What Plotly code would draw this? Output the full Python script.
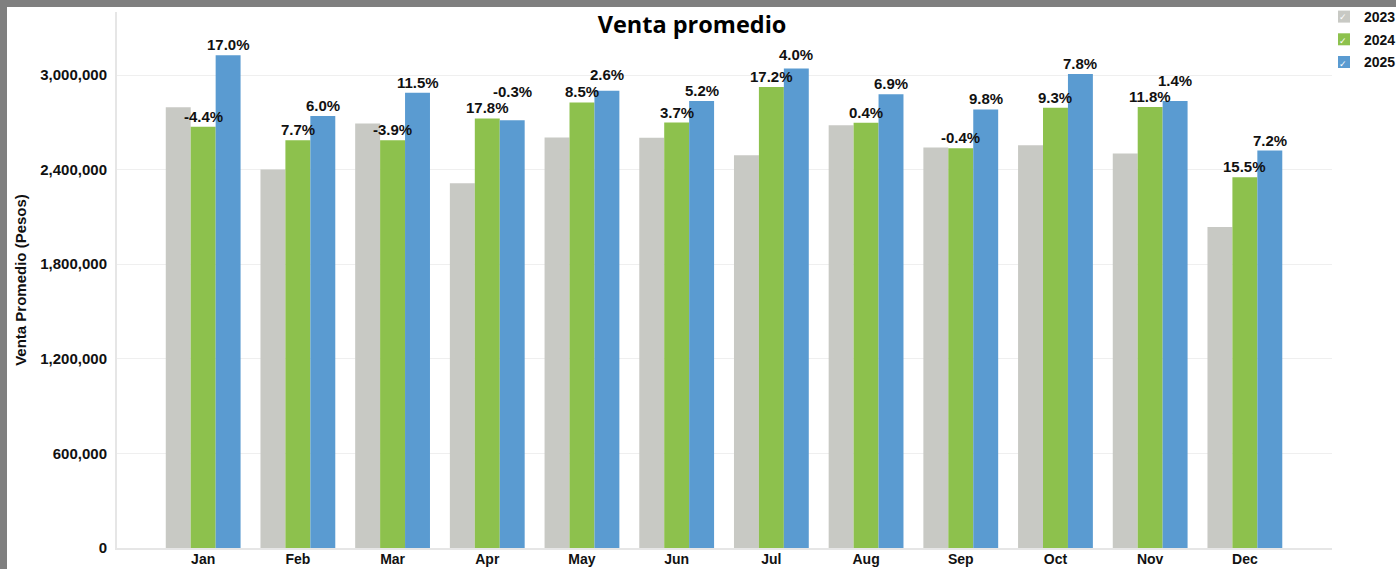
import plotly.graph_objects as go

months = ["Jan", "Feb", "Mar", "Apr", "May", "Jun", "Jul", "Aug", "Sep", "Oct", "Nov", "Dec"]
years = ["2023", "2024", "2025"]

venta_2023 = [2796000, 2401000, 2693000, 2314000, 2604000, 2602000, 2492000, 2682000, 2541000, 2555000, 2503000, 2036000]
venta_2024 = [2672000, 2587000, 2587000, 2725000, 2826000, 2699000, 2925000, 2697000, 2535000, 2792000, 2798000, 2351000]
venta_2025 = [3126000, 2741000, 2887000, 2714000, 2900000, 2836000, 3042000, 2879000, 2782000, 3006000, 2836000, 2521000]

# % change vs previous year, as printed on the chart
cambio_2024 = ["-4.4%", "7.7%", "-3.9%", "17.8%", "8.5%", "3.7%", "17.2%", "0.4%", "-0.4%", "9.3%", "11.8%", "15.5%"]
cambio_2025 = ["17.0%", "6.0%", "11.5%", "-0.3%", "2.6%", "5.2%", "4.0%", "6.9%", "9.8%", "7.8%", "1.4%", "7.2%"]

y_ticks = [0, 600000, 1200000, 1800000, 2400000, 3000000]

colors = ["#c8c9c4", "#8dc14d", "#5a9bd1"]
FONT = "Liberation Sans, Arial, sans-serif"

W, H = 1396, 569
L, R, T, B = 117, 64, 12, 21
BARGAP = 0.21

fig = go.Figure()
for year, vals, col in zip(years, [venta_2023, venta_2024, venta_2025], colors):
    fig.add_trace(go.Bar(
        x=months, y=vals, name=year, marker_color=col,
        marker_line_width=0, legendgroup=year,
    ))

# percent labels over the 2024 and 2025 bars (some lifted to avoid overlap)
lift_2025 = {3: 18, 4: 6, 6: 3, 10: 10}
w = (1 - BARGAP) / 3
for i in range(len(months)):
    fig.add_annotation(x=i, y=venta_2024[i], text=cambio_2024[i], showarrow=False,
                       yanchor="bottom", yshift=0,
                       font=dict(family=FONT, size=15, color="#111", weight="bold"))
    fig.add_annotation(x=i + w, y=venta_2025[i], text=cambio_2025[i], showarrow=False,
                       yanchor="bottom", yshift=lift_2025.get(i, 0),
                       font=dict(family=FONT, size=15, color="#111", weight="bold"))

pw = W - L - R
ph = H - T - B
# grey frame on top/left of the screenshot
fig.add_shape(type="rect", xref="paper", yref="paper", layer="below",
              x0=(7 - L) / pw, x1=(W - L) / pw,
              y0=-(B + 5) / ph, y1=(ph + T - 7) / ph,
              fillcolor="white", line_width=0)

# tick marks inside the legend boxes
for k, yc in enumerate([17, 41, 64]):
    fig.add_annotation(xref="paper", yref="paper", x=(1343 - L) / pw, y=(ph + T - yc) / ph,
                       text="✓", showarrow=False, xanchor="center", yanchor="middle",
                       font=dict(family="DejaVu Sans", size=9, color="white"))

fig.update_layout(
    width=W, height=H,
    margin=dict(l=L, r=R, t=T, b=B, autoexpand=False),
    paper_bgcolor="#7f7f7f",
    plot_bgcolor="white",
    barmode="group", bargap=BARGAP, bargroupgap=0,
    title=dict(text="Venta promedio", xref="container", x=692 / W, xanchor="center",
               yref="container", y=1 - 25 / H, yanchor="middle",
               font=dict(family="Open Sans, sans-serif", size=23.5, color="black", weight="bold")),
    legend=dict(x=(1324 - L) / pw, xanchor="left", y=(ph + T - 1) / ph, yanchor="top",
                bgcolor="rgba(0,0,0,0)", tracegroupgap=1.5, itemclick=False,
                font=dict(family=FONT, size=14, color="#111", weight="bold")),
    font=dict(family=FONT, size=15, color="#111"),
    showlegend=True,
)

fig.update_xaxes(
    range=[-0.91, 11.92], showgrid=False, showline=True, linecolor="#e6e6e6", linewidth=2,
    ticks="", ticklabelstandoff=-3,
    tickfont=dict(family=FONT, size=14, color="#111", weight="bold"),
)
fig.update_yaxes(
    range=[0, 3400000], tickvals=y_ticks, tickformat=",", showgrid=True, gridcolor="#efefef",
    gridwidth=1, zeroline=False, showline=True, linecolor="#e6e6e6", linewidth=2,
    ticks="", ticklabelstandoff=5,
    tickfont=dict(family=FONT, size=15, color="#111", weight="bold"),
    title=dict(text="Venta Promedio (Pesos)", standoff=10,
               font=dict(family=FONT, size=15, color="#111", weight="bold")),
)

fig.write_html("out.html", config={"displayModeBar": False},
               post_script="document.body.style.margin='0';document.body.style.overflow='hidden';")
